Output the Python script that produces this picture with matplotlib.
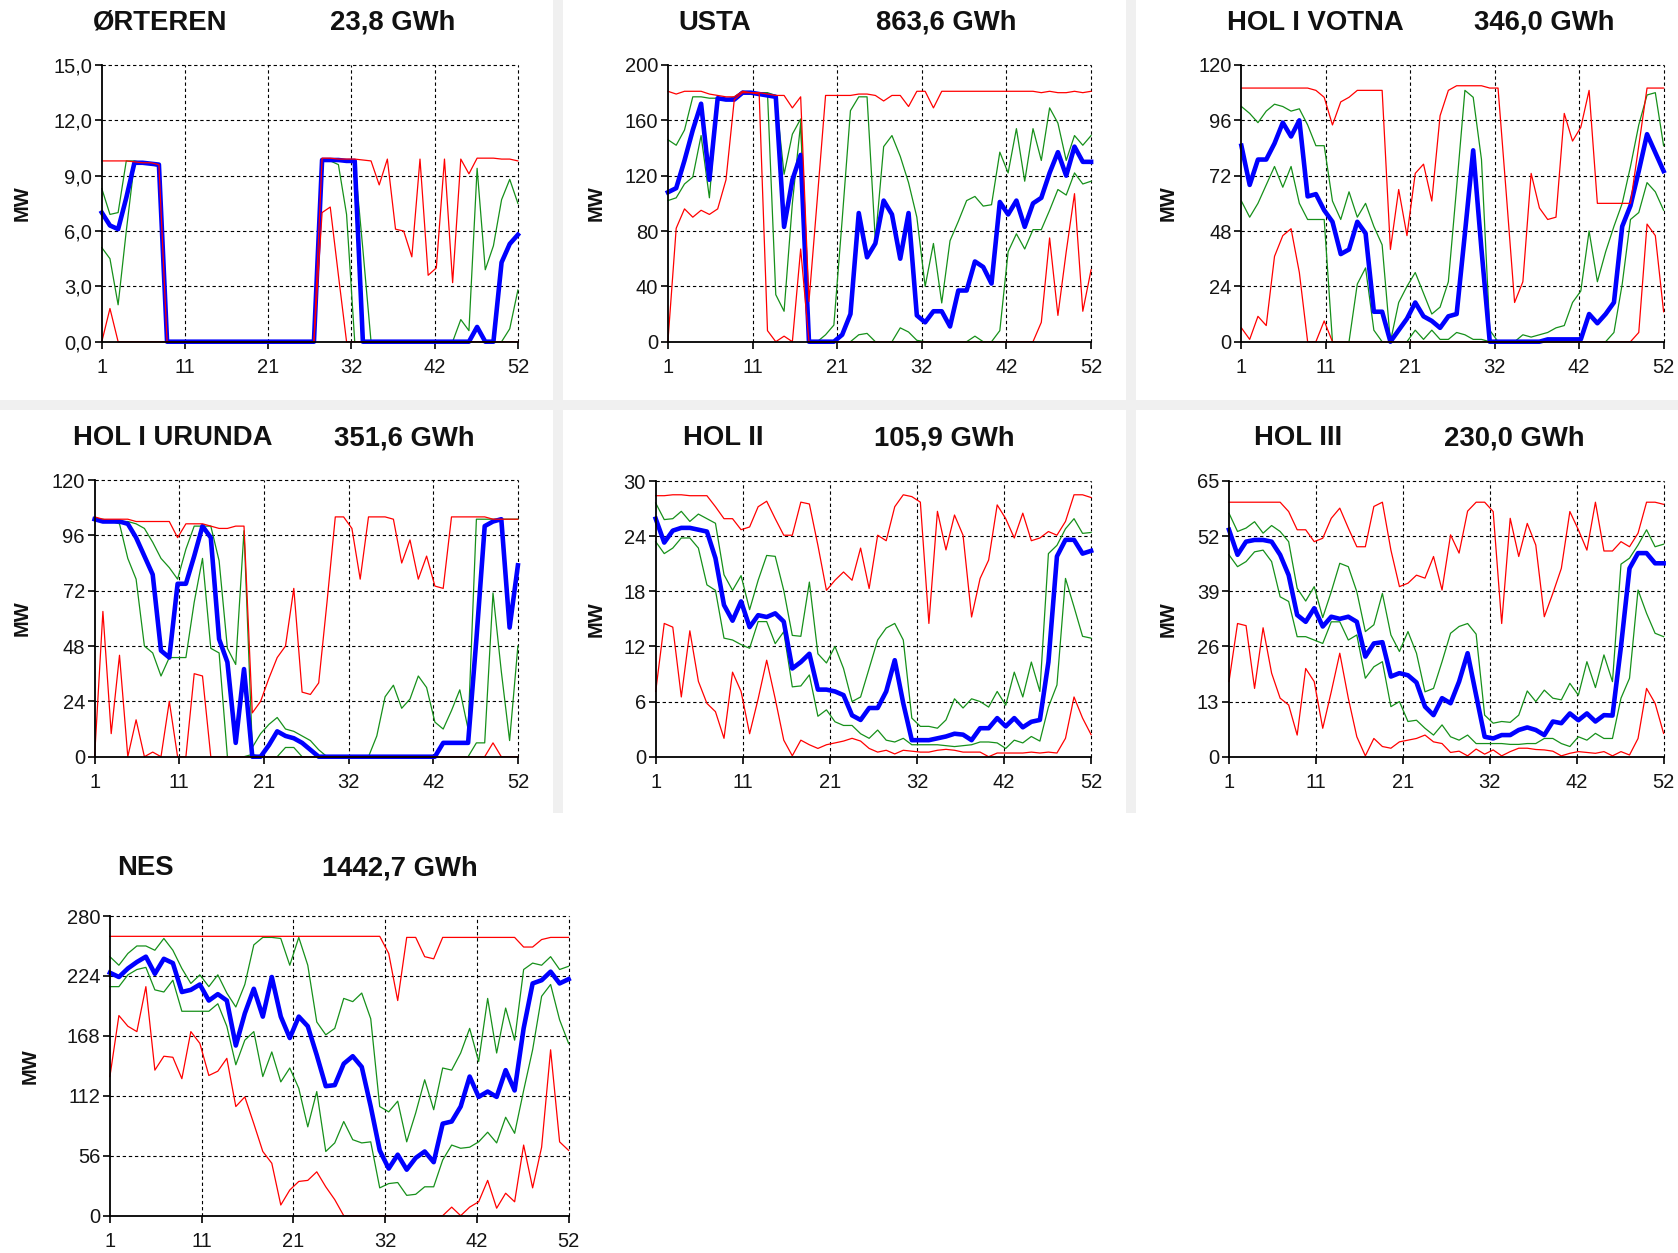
import matplotlib
matplotlib.use("Agg")
import matplotlib.pyplot as plt
from matplotlib.patches import Rectangle

plt.rcParams['font.family'] = ['Liberation Sans', 'DejaVu Sans']

weeks = list(range(1, 53))
xtick_pos = [1, 11.2, 21.4, 31.6, 41.8, 52]
xtick_labels = ['1', '11', '21', '32', '42', '52']

names = ['ØRTEREN', 'USTA', 'HOL I VOTNA', 'HOL I URUNDA', 'HOL II', 'HOL III', 'NES']
energy = ['23,8 GWh', '863,6 GWh', '346,0 GWh', '351,6 GWh', '105,9 GWh', '230,0 GWh', '1442,7 GWh']
ymax = [15.0, 200, 120, 120, 30, 65, 280]

# ---- ØRTEREN
mean_ort = [7.0, 6.3, 6.1, 7.8, 9.7, 9.7, 9.65, 9.6] + [0] * 19 + [9.85, 9.85, 9.85, 9.8, 9.8] + [0] * 14 + [0.8, 0, 0, 4.3, 5.3, 5.8]
max_ort = [9.8, 9.8, 9.8, 9.8, 9.75, 9.7, 9.7, 9.6] + [0] * 19 + [9.95, 9.95, 9.9, 9.9, 9.9, 9.85, 9.8, 8.5, 9.9, 6.1, 6.0, 4.6, 9.9, 3.6, 4.0, 9.9, 3.2, 9.9, 9.1, 9.95, 9.95, 9.95, 9.9, 9.9, 9.8]
min_ort = [0, 1.8] + [0] * 25 + [7.0, 7.3, 3.6] + [0] * 22
hi_ort = [8.3, 6.9, 7.0, 9.8, 9.8, 9.7, 9.7, 9.6] + [0] * 19 + [9.9, 9.9, 9.85, 9.8, 9.8, 5.0] + [0] * 11 + [1.2, 0.6, 9.4, 3.9, 5.2, 7.7, 8.8, 7.5]
lo_ort = [5.1, 4.5, 2.0, 6.0, 9.7, 9.7, 9.6, 9.5] + [0] * 19 + [9.9, 9.8, 9.6, 6.9] + [0] * 19 + [0.7, 2.8]

# ---- USTA
mean_usta = [108, 111, 131, 153, 172, 117, 176, 175, 175, 180, 180, 179, 178, 177, 83, 117, 135, 0, 0, 0,
             0, 5, 20, 93, 61, 71, 102, 92, 60, 93, 19, 14, 22, 22, 11, 37, 37, 58, 54, 42,
             101, 92, 102, 83, 100, 104, 122, 137, 120, 141, 130, 130]
max_usta = [181, 179, 181, 181, 181, 179, 178, 177, 177, 181, 180, 180, 179, 178, 178, 169, 177, 29, 103, 178,
            178, 178, 178, 179, 179, 178, 174, 178, 178, 170, 181, 181, 169, 181,
            181, 181, 181, 181, 181, 181, 181, 181, 181, 181, 181, 180, 181, 180, 180, 181, 180, 181]
min_usta = [0, 82, 96, 90, 95, 92, 96, 117, 175, 180, 180, 179, 8, 0, 4, 0, 67, 0] + [0] * 27 + [14, 75, 19, 65, 107, 22, 52]
hi_usta = [146, 142, 153, 177, 177, 176, 176, 175, 177, 181, 180, 180, 180, 178, 121, 150, 161, 0, 0, 5,
           12, 88, 167, 177, 177, 73, 141, 149, 134, 115, 90, 40, 71, 28, 73, 87, 102, 105, 98, 99,
           137, 122, 154, 116, 154, 131, 169, 158, 131, 149, 142, 149]
lo_usta = [102, 104, 114, 119, 149, 104, 176, 175, 175, 180, 180, 180, 180, 34, 22, 100, 158] + [0] * 6 + \
          [5, 6, 0, 0, 0, 10, 7, 1] + [0] * 6 + [4, 0, 0, 8, 65, 78, 67, 81, 81, 95, 110, 106, 122, 114, 116]

# ---- HOL I VOTNA
mean_vot = [85, 68, 79, 79, 86, 95, 89, 96, 63, 64, 57, 52, 38, 40, 52, 47, 13, 13, 0, 5,
            10, 17, 11, 9, 6, 11, 12, 47, 83, 40, 0] + [0] * 6 + [1, 1, 1, 1, 1, 12, 8, 12, 17, 50, 59, 74, 90, 82, 74]
max_vot = [110, 110, 110, 110, 110, 110, 110, 110, 110, 109, 106, 94, 104, 106, 109, 109, 109, 109, 40, 66,
           46, 73, 77, 61, 98, 109, 111, 111, 111, 111, 110, 110, 64, 17, 26, 73, 58, 53, 54, 99,
           87, 93, 109, 60, 60, 60, 60, 60, 85, 110, 110, 110]
min_vot = [6, 1, 11, 7, 37, 46, 49, 30, 0, 0, 9] + [0] * 37 + [4, 51, 46, 13]
hi_vot = [102, 99, 95, 100, 103, 102, 100, 101, 94, 85, 85, 61, 53, 65, 54, 60, 50, 42, 0, 17,
          24, 30, 21, 12, 15, 26, 67, 109, 106, 79, 5, 0, 0, 0, 3, 2, 3, 4, 6, 7,
          17, 22, 48, 26, 39, 50, 60, 76, 94, 107, 108, 85]
lo_vot = [61, 54, 60, 68, 76, 67, 76, 60, 53, 53, 53, 0, 0, 0, 25, 32, 5, 0, 0, 0,
          0, 5, 1, 5, 1, 1, 4, 3, 1, 1] + [0] * 15 + [4, 25, 53, 56, 69, 65, 57]

# ---- HOL I URUNDA
mean_uru = [103, 102, 102, 102, 101, 95, 87, 79, 46, 43, 75, 75, 87, 100, 95, 51, 41, 6, 38, 0,
            0, 5, 11, 9, 8, 6, 3] + [0] * 15 + [6, 6, 6, 6, 51, 100, 102, 103, 56, 83]
max_uru = [104, 103, 103, 103, 103, 102, 102, 102, 102, 102, 95, 101, 101, 101, 100, 99, 99, 100, 100, 19,
           24, 34, 43, 48, 73, 28, 27, 32, 67, 104, 104, 99, 77, 104, 104, 104, 103, 84, 94, 77,
           87, 74, 73, 104, 104, 104, 104, 104, 103, 103, 103, 103]
min_uru = [0, 63, 10, 44, 0, 16, 0, 2, 0, 24, 0, 0, 36, 35] + [0] * 34 + [6, 0, 0, 0]
hi_uru = [103, 103, 102, 102, 102, 101, 99, 93, 86, 82, 77, 90, 100, 100, 100, 85, 47, 40, 98, 4,
          10, 14, 17, 12, 11, 9, 7, 3] + [0] * 6 + [9, 26, 31, 21, 25, 35, 30, 15, 12, 20, 29, 12, 103, 103, 103, 103, 103, 103]
lo_uru = [103, 102, 102, 101, 86, 77, 48, 45, 35, 43, 43, 43, 67, 86, 47, 45, 0, 0, 0, 1,
          0, 0, 0, 4, 4] + [0] * 21 + [6, 6, 71, 37, 7, 48]

# ---- HOL II
mean_h2 = [25.9, 23.3, 24.6, 24.9, 24.9, 24.7, 24.5, 21.6, 16.5, 14.8, 16.9, 14.1, 15.4, 15.2, 15.6, 14.7, 9.6, 10.3, 11.2, 7.3,
           7.3, 7.1, 6.7, 4.5, 4.0, 5.3, 5.3, 7.1, 10.5, 5.8, 1.8, 1.8, 1.8, 2.0, 2.2, 2.5, 2.4, 1.8, 3.1, 3.1,
           4.2, 3.3, 4.2, 3.2, 3.8, 4.0, 10.3, 21.8, 23.6, 23.6, 22.1, 22.4]
max_h2 = [28.4, 28.4, 28.5, 28.5, 28.4, 28.4, 28.4, 27.2, 25.9, 25.9, 24.7, 25.0, 27.2, 27.8, 25.9, 24.1, 24.1, 27.7, 27.5, 23.0,
          18.1, 19.2, 20.1, 19.2, 22.7, 18.3, 24.1, 23.5, 27.2, 28.5, 28.3, 27.7, 14.5, 26.7, 22.5, 26.3, 24.1, 15.2, 19.4, 21.4,
          27.4, 25.9, 23.8, 26.5, 23.5, 23.8, 24.5, 24.1, 25.6, 28.5, 28.5, 28.2]
min_h2 = [7.1, 14.5, 14.1, 6.5, 13.7, 8.2, 5.8, 4.9, 2.0, 9.2, 7.1, 2.5, 6.3, 10.5, 6.3, 1.8, 0.1, 1.8, 1.3, 0.9,
          1.3, 1.5, 1.7, 2.0, 1.7, 0.9, 0.5, 0.7, 0.3, 0.7, 0.6, 0.5, 0.5, 0.7, 0.8, 0.7, 0.5, 0.5, 0.5, 0.0,
          0.4, 0.4, 0.4, 0.4, 0.5, 0.4, 0.5, 0.4, 2.0, 6.5, 4.2, 2.4]
hi_h2 = [27.6, 25.8, 25.9, 26.7, 25.6, 26.4, 25.9, 25.4, 19.8, 18.1, 19.7, 16.0, 19.2, 21.9, 21.8, 18.1, 13.2, 13.1, 19.0, 11.2,
         10.2, 12.0, 9.6, 6.0, 6.5, 9.6, 12.7, 14.0, 14.5, 12.7, 4.2, 3.3, 3.3, 3.1, 4.0, 6.3, 5.3, 6.3, 6.0, 5.4,
         7.1, 5.6, 9.2, 6.5, 10.3, 7.1, 22.1, 23.0, 24.8, 25.9, 24.3, 24.4]
lo_h2 = [23.4, 22.1, 22.7, 23.8, 23.8, 22.7, 18.7, 18.1, 12.9, 12.7, 12.2, 11.8, 14.7, 14.7, 12.3, 13.6, 7.6, 7.7, 8.9, 4.4,
         5.1, 3.8, 3.4, 3.4, 2.5, 2.0, 2.9, 1.8, 1.6, 2.0, 1.3, 1.3, 1.3, 1.3, 1.2, 1.1, 1.2, 1.3, 1.6, 1.6,
         1.5, 0.9, 1.8, 1.5, 2.2, 1.7, 5.4, 7.8, 19.4, 16.3, 13.1, 12.9]

# ---- HOL III
mean_h3 = [53.5, 47.6, 50.7, 51.1, 51.1, 50.7, 47.6, 42.8, 33.4, 31.8, 35.0, 30.7, 33.0, 32.5, 33.0, 31.8, 23.6, 26.7, 27.0, 18.9,
           19.7, 19.2, 17.5, 11.8, 9.8, 13.8, 12.6, 17.7, 24.4, 14.5, 4.7, 4.3, 5.1, 5.1, 6.3, 6.9, 6.3, 5.1, 8.3, 7.9,
           10.2, 8.6, 10.2, 8.3, 9.8, 9.7, 26.0, 44.4, 48.0, 48.0, 45.6, 45.6]
max_h3 = [60, 60, 60, 60, 60, 60, 60, 57.8, 53.5, 53.5, 50.7, 51.5, 56.2, 58.6, 53.9, 49.5, 49.5, 59.0, 60.0, 48.7,
          40.1, 40.9, 42.8, 42.1, 47.2, 39.3, 52.3, 48.0, 57.9, 60.0, 60.0, 57.8, 31.4, 56.2, 47.2, 55.0, 49.9, 33.0, 38.5, 44.4,
          57.8, 53.5, 48.7, 60.0, 48.5, 48.5, 50.7, 49.5, 52.7, 60.0, 60.0, 59.5]
min_h3 = [17.7, 31.4, 30.9, 16.1, 30.4, 19.7, 13.8, 12.2, 5.1, 20.8, 17.7, 6.7, 15.3, 24.4, 13.8, 4.7, 0.2, 4.3, 2.4, 2.0,
          3.5, 3.9, 4.3, 5.1, 3.5, 3.1, 1.0, 1.3, 0.2, 1.8, 0.6, 1.6, 0.2, 1.2, 2.0, 2.0, 1.7, 1.6, 1.3, 0.2,
          0.8, 1.2, 1.0, 0.8, 1.2, 0.2, 1.2, 0.4, 4.3, 16.1, 12.6, 5.5]
hi_h3 = [57.4, 53.1, 53.9, 55.4, 52.7, 54.5, 53.1, 50.7, 39.7, 36.7, 40.1, 32.8, 38.9, 45.6, 44.8, 38.9, 29.5, 31.1, 38.5, 28.7,
         24.8, 29.5, 24.4, 15.3, 16.1, 22.4, 29.1, 30.7, 31.4, 28.9, 9.8, 7.9, 8.3, 8.1, 9.8, 15.5, 13.0, 15.7, 13.8, 13.4,
         17.3, 14.5, 22.4, 16.3, 24.0, 17.7, 45.4, 46.8, 49.9, 53.5, 49.5, 50.1]
lo_h3 = [47.6, 44.8, 46.0, 48.3, 48.7, 46.0, 37.7, 36.6, 28.3, 28.3, 27.5, 26.7, 31.8, 31.8, 27.5, 28.7, 18.5, 21.2, 22.4, 11.8,
         13.0, 8.3, 8.6, 6.7, 5.1, 7.5, 4.7, 3.9, 5.1, 3.1, 3.1, 3.1, 3.1, 2.9, 2.9, 3.1, 3.1, 4.3, 4.3, 3.1,
         2.4, 4.7, 3.9, 5.5, 4.3, 4.3, 13.8, 18.5, 39.3, 33.8, 29.1, 28.3]

# ---- NES
mean_nes = [227, 223, 231, 237, 242, 226, 240, 236, 209, 211, 216, 201, 207, 201, 159, 189, 212, 186, 223, 186,
            166, 186, 177, 150, 121, 122, 142, 149, 139, 102, 61, 44, 57, 43, 54, 60, 50, 86, 88, 102,
            130, 111, 116, 111, 136, 117, 175, 217, 220, 228, 217, 221]
max_nes = [261] * 31 + [245, 201, 260, 260, 242, 240] + [260] * 9 + [251, 251, 258, 260, 260, 260]
min_nes = [130, 187, 177, 172, 214, 136, 149, 148, 128, 172, 161, 131, 135, 147, 102, 111, 86, 60, 49, 10,
           24, 32, 33, 41, 27, 15, 0, 0, 0, 0, 0, 0, 0, 0, 0, 0, 0, 0, 8, 0,
           8, 13, 33, 7, 21, 13, 66, 26, 64, 155, 69, 61]
hi_nes = [242, 234, 245, 252, 252, 248, 259, 248, 231, 217, 225, 214, 225, 208, 195, 216, 253, 260, 260, 259,
          234, 260, 234, 181, 169, 175, 203, 200, 208, 184, 102, 97, 107, 69, 96, 127, 99, 138, 136, 152,
          175, 144, 203, 152, 194, 164, 230, 236, 234, 242, 230, 233]
lo_nes = [214, 214, 225, 230, 232, 211, 209, 220, 191, 191, 191, 191, 198, 177, 141, 164, 172, 130, 153, 125,
          138, 119, 83, 116, 60, 68, 88, 71, 68, 69, 26, 30, 31, 19, 20, 27, 27, 52, 66, 63,
          64, 69, 78, 68, 92, 77, 117, 155, 205, 216, 183, 161]

series = [
    (mean_ort, max_ort, min_ort, hi_ort, lo_ort),
    (mean_usta, max_usta, min_usta, hi_usta, lo_usta),
    (mean_vot, max_vot, min_vot, hi_vot, lo_vot),
    (mean_uru, max_uru, min_uru, hi_uru, lo_uru),
    (mean_h2, max_h2, min_h2, hi_h2, lo_h2),
    (mean_h3, max_h3, min_h3, hi_h3, lo_h3),
    (mean_nes, max_nes, min_nes, hi_nes, lo_nes),
]

# layout in pixels (left, top, right, bottom)
W, H = 1678, 1253
boxes = [(101.8, 65, 517.9, 341.7), (667.9, 65, 1091.1, 341.7), (1241.4, 65, 1663.6, 341.7),
         (94.6, 480, 517.9, 756.7), (655.7, 481, 1091.1, 756.7), (1229.0, 481, 1663.6, 756.7),
         (109.9, 916, 568.6, 1215.7)]
title_pos = [(92.9, 330, 22.7), (677.9, 876, 22.7), (1227.3, 1474, 22.7),
             (73.2, 334, 438), (683, 874, 438), (1253.7, 1444, 438),
             (117.6, 322, 868)]
mw_x = [22, 596.6, 1168, 22, 596.6, 1168, 30.5]

fig = plt.figure(figsize=(W / 100, H / 100), dpi=100)
fig.patch.set_facecolor('white')
sep = '#f0f0f0'
fig.patches.append(Rectangle((0, 1 - 410 / H), 1, 10 / H, transform=fig.transFigure, facecolor=sep, edgecolor='none', zorder=0))
for x0 in (553.3, 1126.0):
    fig.patches.append(Rectangle((x0 / W, 1 - 813 / H), 9.7 / W, 813 / H, transform=fig.transFigure, facecolor=sep, edgecolor='none', zorder=0))

GREEN = '#16901a'
for i in range(7):
    l, t, r, b = boxes[i]
    ax = fig.add_axes([l / W, 1 - b / H, (r - l) / W, (b - t) / H])
    ax.set_facecolor('white')
    mean, mx, mn, hi, lo = series[i]
    ym = ymax[i]
    ax.set_xlim(1, 52)
    ax.set_ylim(0, ym)
    yt = [ym * k / 5 for k in range(6)]
    for v in yt[1:]:
        ax.axhline(v, color='black', lw=0.8, ls=(0, (3, 2.5)), zorder=1, clip_on=False)
    for v in xtick_pos[1:]:
        ax.axvline(v, color='black', lw=0.8, ls=(0, (3, 2.5)), zorder=1, clip_on=False)
    ax.plot(weeks, hi, color=GREEN, lw=0.9, zorder=2, clip_on=False)
    ax.plot(weeks, lo, color=GREEN, lw=0.9, zorder=2, clip_on=False)
    ax.plot(weeks, mean, color='#0000ff', lw=3.3, zorder=3, clip_on=False, solid_joinstyle='round')
    ax.plot(weeks, mx, color='#ff0000', lw=0.9, zorder=4, clip_on=False)
    ax.plot(weeks, mn, color='#ff0000', lw=0.9, zorder=4, clip_on=False)
    for s in ('top', 'right'):
        ax.spines[s].set_visible(False)
    for s in ('left', 'bottom'):
        ax.spines[s].set_color('black')
        ax.spines[s].set_linewidth(1.3)
        ax.spines[s].set_zorder(5)
    ax.set_yticks(yt)
    if i == 0:
        ax.set_yticklabels([('%.1f' % v).replace('.', ',') for v in yt])
    else:
        ax.set_yticklabels(['%d' % round(v) for v in yt])
    ax.set_xticks(xtick_pos)
    ax.set_xticklabels(xtick_labels)
    ax.tick_params(axis='both', direction='out', length=5, width=1.2, color='black',
                   labelsize=14.5, labelcolor='#151515')
    ax.tick_params(axis='y', pad=2)
    ax.tick_params(axis='x', pad=7)
    tx, vx, ty = title_pos[i]
    fig.text(tx / W, 1 - ty / H, names[i], ha='left', va='center', fontsize=19.8, fontweight='bold', color='#111111')
    fig.text(vx / W, 1 - ty / H, energy[i], ha='left', va='center', fontsize=19.8, fontweight='bold', color='#111111')
    fig.text(mw_x[i] / W, 1 - ((t + b) / 2) / H, 'MW', rotation=90, ha='center', va='center',
             fontsize=14.5, fontweight='bold', color='#111111')

fig.savefig('out.png', dpi=100, facecolor='white')
